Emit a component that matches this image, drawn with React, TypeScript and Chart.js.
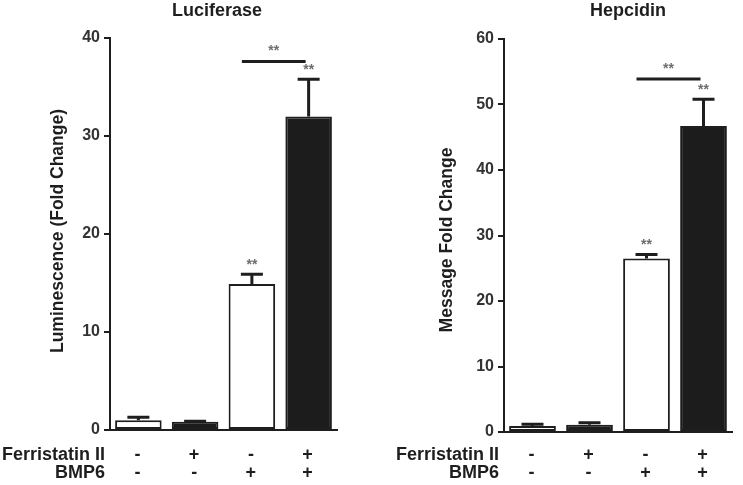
import React, { useEffect, useRef } from "react";
import { Chart, registerables } from "chart.js";

Chart.register(...registerables);

// ---- data ----
const categories = ["Control", "Ferristatin II", "BMP6", "Ferristatin II + BMP6"];
const ferristatinRow = ["-", "+", "-", "+"];
const bmp6Row = ["-", "-", "+", "+"];
const rowLabels = ["Ferristatin II", "BMP6"];

const luciferaseMeans = [1.0, 0.85, 14.9, 32.0];
const luciferaseErrors = [0.3, 0.05, 1.0, 3.8];
const luciferaseStars = ["", "", "**", "**"];
const luciferaseBracket = 37.6;
const luciferaseTicks = [0, 10, 20, 30, 40];

const hepcidinMeans = [0.9, 1.1, 26.5, 46.7];
const hepcidinErrors = [0.3, 0.3, 0.6, 4.1];
const hepcidinStars = ["", "", "**", "**"];
const hepcidinBracket = 53.9;
const hepcidinTicks = [0, 10, 20, 30, 40, 50, 60];

const bracketStars = "**";
const barFills = ["#ffffff", "#1c1c1c", "#ffffff", "#1c1c1c"];

const FONT = '"Liberation Sans", Arial, Helvetica, sans-serif';
const INK = "#1e1e1e";

type PanelCfg = {
  title: string;
  yTitle: string;
  means: number[];
  errors: number[];
  stars: string[];
  bracket: number;
  ticks: number[];
  width: number;
  padRight: number;
  padTop: number;
  yWidth: number;
  xHeight: number;
  titleX: number;
  yTitleX: number;
  yTitleY: number;
};

function makePlugin(cfg: PanelCfg) {
  return {
    id: "panelDecor",
    afterDatasetsDraw(chart: any) {
      const ctx = chart.ctx as CanvasRenderingContext2D;
      const xs = chart.scales.x;
      const ys = chart.scales.y;
      const area = chart.chartArea;
      ctx.save();
      // error bars
      ctx.strokeStyle = INK;
      ctx.lineWidth = 3;
      cfg.means.forEach((m, i) => {
        const x = xs.getPixelForValue(i);
        const yb = ys.getPixelForValue(m);
        const yt = ys.getPixelForValue(m + cfg.errors[i]);
        ctx.beginPath();
        ctx.moveTo(x, yb);
        ctx.lineTo(x, yt);
        ctx.moveTo(x - 11, yt);
        ctx.lineTo(x + 11, yt);
        ctx.stroke();
        if (cfg.stars[i]) {
          ctx.fillStyle = "#6e6e6e";
          ctx.font = `bold 14px ${FONT}`;
          ctx.textAlign = "center";
          ctx.textBaseline = "middle";
          ctx.fillText(cfg.stars[i], x, yt - 9);
        }
      });
      // bracket
      const bx1 = xs.getPixelForValue(2) - 10;
      const bx2 = xs.getPixelForValue(3) - 3;
      const by = ys.getPixelForValue(cfg.bracket);
      ctx.beginPath();
      ctx.moveTo(bx1, by);
      ctx.lineTo(bx2, by);
      ctx.stroke();
      ctx.fillStyle = "#6e6e6e";
      ctx.font = `bold 14px ${FONT}`;
      ctx.textAlign = "center";
      ctx.textBaseline = "middle";
      ctx.fillText(bracketStars, (bx1 + bx2) / 2, by - 10);

      // title
      ctx.fillStyle = INK;
      ctx.font = `bold 18px ${FONT}`;
      ctx.textAlign = "center";
      ctx.textBaseline = "alphabetic";
      ctx.fillText(cfg.title, cfg.titleX, 16);

      // y title
      ctx.save();
      ctx.translate(cfg.yTitleX, cfg.yTitleY);
      ctx.rotate(-Math.PI / 2);
      ctx.textAlign = "center";
      ctx.textBaseline = "middle";
      ctx.font = `bold 17.5px ${FONT}`;
      ctx.fillText(cfg.yTitle, 0, 0);
      ctx.restore();

      // bottom rows
      ctx.font = `bold 18px ${FONT}`;
      ctx.textBaseline = "alphabetic";
      const rows = [ferristatinRow, bmp6Row];
      const baselines = [460, 478];
      rows.forEach((row, r) => {
        ctx.textAlign = "right";
        ctx.fillText(rowLabels[r], area.left - 5, baselines[r]);
        ctx.textAlign = "center";
        row.forEach((s, i) => {
          ctx.fillText(s, xs.getPixelForValue(i) - 1, baselines[r]);
        });
      });
      ctx.restore();
    },
  };
}

function Panel({ cfg }: { cfg: PanelCfg }) {
  const ref = useRef<HTMLCanvasElement | null>(null);
  useEffect(() => {
    if (!ref.current) return;
    const tickMax = cfg.ticks[cfg.ticks.length - 1];
    const chart = new Chart(ref.current, {
      type: "bar",
      data: {
        labels: categories,
        datasets: [
          {
            data: cfg.means,
            backgroundColor: barFills,
            borderColor: INK,
            borderWidth: 2,
            borderSkipped: false,
            barPercentage: 0.82,
            categoryPercentage: 1.0,
          },
        ],
      },
      options: {
        responsive: false,
        animation: false,
        events: [],
        layout: { padding: { left: 0, right: cfg.padRight, top: cfg.padTop, bottom: 0 } },
        plugins: { legend: { display: false }, tooltip: { enabled: false }, title: { display: false } },
        scales: {
          x: {
            grid: { display: false },
            ticks: { display: false },
            border: { display: true, color: INK, width: 2 },
            afterFit: (s: any) => {
              s.height = cfg.xHeight;
            },
          },
          y: {
            min: cfg.ticks[0],
            max: tickMax,
            afterBuildTicks: (s: any) => {
              s.ticks = cfg.ticks.map((v) => ({ value: v }));
            },
            ticks: {
              color: "#333333",
              font: { family: FONT, size: 16, weight: "bold" },
              padding: 4,
            },
            grid: {
              drawOnChartArea: false,
              drawTicks: true,
              tickLength: 6,
              color: INK,
              lineWidth: 2,
            },
            border: { display: true, color: INK, width: 2 },
            afterFit: (s: any) => {
              s.width = cfg.yWidth;
            },
          },
        },
      } as any,
      plugins: [makePlugin(cfg)],
    });
    return () => chart.destroy();
  }, [cfg]);
  return <canvas ref={ref} width={cfg.width} height={485} style={{ display: "block", width: cfg.width, height: 485 }} />;
}

const leftCfg: PanelCfg = {
  title: "Luciferase",
  yTitle: "Luminescence (Fold Change)",
  means: luciferaseMeans,
  errors: luciferaseErrors,
  stars: luciferaseStars,
  bracket: luciferaseBracket,
  ticks: luciferaseTicks,
  width: 372,
  padRight: 35,
  padTop: 38,
  yWidth: 110,
  xHeight: 55,
  titleX: 217,
  yTitleX: 58,
  yTitleY: 231,
};

const rightCfg: PanelCfg = {
  title: "Hepcidin",
  yTitle: "Message Fold Change",
  means: hepcidinMeans,
  errors: hepcidinErrors,
  stars: hepcidinStars,
  bracket: hepcidinBracket,
  ticks: hepcidinTicks,
  width: 371,
  padRight: 11,
  padTop: 39,
  yWidth: 132,
  xHeight: 53,
  titleX: 256,
  yTitleX: 75,
  yTitleY: 240,
};

export default function App() {
  return (
    <div style={{ position: "absolute", left: 0, top: 0, width: 743, height: 485, background: "#ffffff", display: "flex" }}>
      <Panel cfg={leftCfg} />
      <Panel cfg={rightCfg} />
    </div>
  );
}
